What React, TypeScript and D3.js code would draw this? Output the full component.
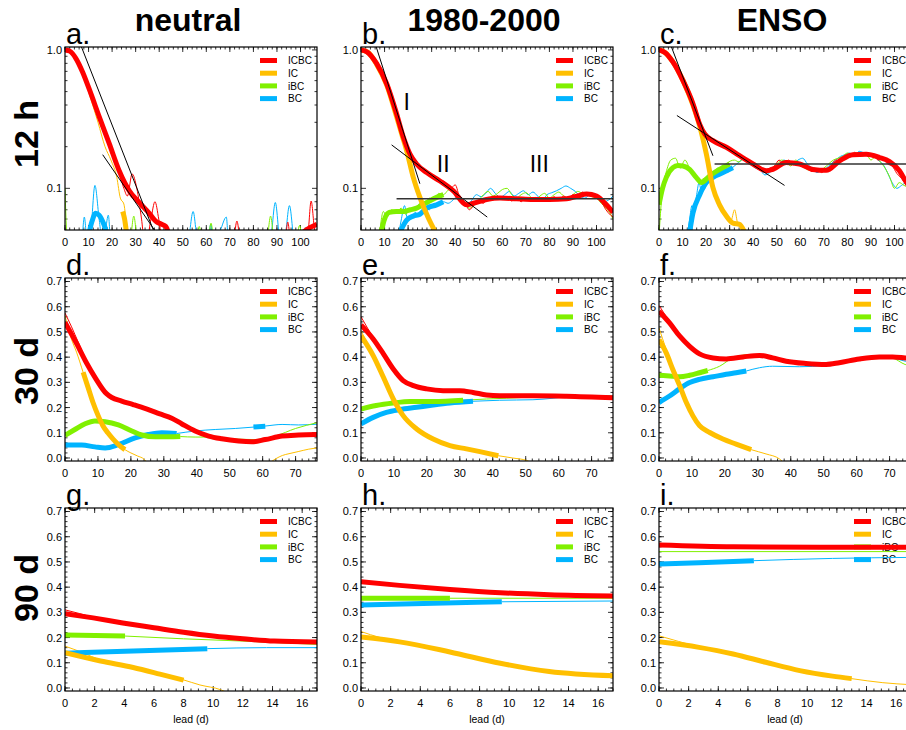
import { useEffect, useRef } from 'react'
import * as d3 from 'd3'

type Pt = [number, number]

// labels
const columnTitles = ['neutral', '1980-2000', 'ENSO']
const rowLabels = ['12 h', '30 d', '90 d']
const panelLetters = ['a.', 'b.', 'c.', 'd.', 'e.', 'f.', 'g.', 'h.', 'i.']
const seriesNames = ['ICBC', 'IC', 'iBC', 'BC']
const seriesColors = ['#ff0000', '#ffbf00', '#80f000', '#00b4ff']
const regimeLabels: { text: string; x: number; y: number }[] = [
    { text: 'I', x: 19.4, y: 0.37 },
    { text: 'II', x: 34.9, y: 0.132 },
    { text: 'III', x: 75.7, y: 0.132 },
]

// axes
const xMaxByRow = [107, 76.5, 17]
const xTicks12h = [0, 10, 20, 30, 40, 50, 60, 70, 80, 90, 100]
const xTicks30d = [0, 10, 20, 30, 40, 50, 60, 70]
const xTicks90d = [0, 2, 4, 6, 8, 10, 12, 14, 16]
const yTicksLog = [0.1, 1.0]
const yMinorLog = [0.06, 0.07, 0.08, 0.09, 0.2, 0.3, 0.4, 0.5, 0.6, 0.7, 0.8, 0.9]
const yTicksLin = [0, 0.1, 0.2, 0.3, 0.4, 0.5, 0.6, 0.7]

// ---- a. neutral 12 h
const a_icbc_thick: Pt[] = [[0, 1.0], [2, 0.98], [4.6, 0.87], [7.5, 0.69], [10.3, 0.52], [14.5, 0.33], [18.8, 0.21], [23, 0.134], [27.3, 0.096], [31.5, 0.079], [35.8, 0.066], [38.5, 0.058], [41, 0.055], [42.8, 0.053], [44, 0.047]]
const a_icbc_thick2: Pt[] = [[101, 0.048], [104, 0.052], [107, 0.055]]
const a_icbc_thin: Pt[] = [[0, 1.0], [4.6, 0.88], [10.3, 0.53], [14.5, 0.34], [18.8, 0.22], [22, 0.15], [25, 0.1], [26.5, 0.088], [28.5, 0.127], [30.5, 0.1], [32.5, 0.06], [33.5, 0.045], [35, 0.045], [36.5, 0.06], [38.2, 0.08], [39.8, 0.06], [41, 0.045], [45, 0.035], [71, 0.035], [73, 0.058], [75, 0.035], [93, 0.035], [94.6, 0.057], [96.2, 0.035], [103, 0.045], [104.5, 0.081], [106, 0.05], [107, 0.045]]
const a_ic_thick: Pt[] = [[24.5, 0.068], [25.3, 0.06], [26.3, 0.045]]
const a_ic_thin: Pt[] = [[0, 1.0], [4, 0.88], [8, 0.63], [11, 0.44], [14, 0.3], [17, 0.2], [19.5, 0.16], [22, 0.12], [23.5, 0.085], [25, 0.077], [26.3, 0.05], [27, 0.04]]
const a_ibc_thin: Pt[] = [[0, 0.1], [0.6, 0.05], [1.2, 0.03], [27.5, 0.04], [29.2, 0.063], [31, 0.04], [55.5, 0.04], [57, 0.053], [58.5, 0.04], [60.5, 0.04], [62, 0.056], [63.5, 0.04], [85.5, 0.04], [87.3, 0.063], [89, 0.04], [98, 0.04], [99.6, 0.054], [101, 0.04], [107, 0.03]]
const a_bc_thick: Pt[] = [[9.9, 0.045], [11.5, 0.058], [13, 0.066], [14.5, 0.064], [16.5, 0.055], [18.2, 0.045]]
const a_bc_thin: Pt[] = [[0, 0.03], [7, 0.04], [8.2, 0.062], [9.5, 0.04], [11, 0.05], [12.7, 0.105], [14.5, 0.06], [16, 0.04], [17.2, 0.05], [18.4, 0.064], [19.5, 0.04], [52, 0.04], [54.4, 0.068], [56.5, 0.04], [60.5, 0.04], [61.9, 0.055], [63, 0.04], [66, 0.05], [68.5, 0.062], [69.5, 0.04], [87, 0.04], [89.3, 0.079], [91.5, 0.04], [93, 0.04], [95.3, 0.075], [97.5, 0.04], [107, 0.03]]
const a_fit1: Pt[] = [[7, 1.05], [37.5, 0.05]]
const a_fit2: Pt[] = [[16, 0.175], [38, 0.05]]

// ---- b. 1980-2000 12 h
const b_icbc_thick: Pt[] = [[0, 1.0], [2.5, 0.97], [6.6, 0.8], [10.9, 0.57], [15.1, 0.346], [18, 0.234], [20.8, 0.177], [23.6, 0.15], [27.9, 0.13], [33.5, 0.113], [39.2, 0.096], [44.8, 0.076], [47.7, 0.078], [53.3, 0.083], [59, 0.085], [66, 0.084], [73.1, 0.083], [80, 0.083], [87.3, 0.084], [92, 0.088], [95.8, 0.091], [100, 0.088], [104.2, 0.076], [107, 0.067]]
const b_icbc_thin: Pt[] = [[0, 1.0], [6.6, 0.81], [10.9, 0.58], [15.1, 0.35], [18, 0.24], [20.8, 0.18], [23.6, 0.152], [27.9, 0.133], [33.5, 0.115], [36, 0.11], [38, 0.1], [40, 0.106], [42, 0.085], [44, 0.08], [46, 0.07], [48, 0.076], [50, 0.08], [52, 0.078], [54, 0.086], [56, 0.082], [58, 0.088], [60, 0.083], [62, 0.087], [64, 0.081], [66, 0.086], [68, 0.08], [70, 0.085], [72, 0.081], [74, 0.086], [76, 0.08], [78, 0.085], [80, 0.082], [82, 0.087], [84, 0.082], [86, 0.088], [88, 0.084], [90, 0.09], [92, 0.087], [94, 0.094], [96, 0.09], [98, 0.092], [100, 0.085], [102, 0.08], [104, 0.07], [106, 0.064], [107, 0.062]]
const b_ic_thick: Pt[] = [[0, 1.0], [3, 0.96], [6.6, 0.79], [10.9, 0.56], [15.1, 0.33], [17.5, 0.24], [19.4, 0.187], [22.2, 0.12], [25, 0.086], [28.6, 0.061], [31.4, 0.049]]
const b_ic_thin: Pt[] = [[0, 1.0], [3, 0.95], [6.6, 0.78], [10.9, 0.55], [15.1, 0.32], [17.5, 0.235], [19.4, 0.18], [22.2, 0.118], [25, 0.084], [28.6, 0.06], [31, 0.049], [32, 0.045]]
const b_ibc_thick: Pt[] = [[8.5, 0.048], [10, 0.06], [12, 0.067], [15, 0.068], [18, 0.068], [21, 0.07], [23.6, 0.072], [27.9, 0.079], [32.1, 0.086], [35, 0.09]]
const b_ibc_thin: Pt[] = [[7.8, 0.045], [9.5, 0.068], [11, 0.062], [13, 0.07], [15, 0.066], [17, 0.072], [19, 0.065], [21, 0.071], [23, 0.07], [25, 0.078], [27, 0.076], [29, 0.085], [31, 0.082], [33, 0.092], [35, 0.09], [37, 0.097], [38.5, 0.1], [40, 0.09], [42, 0.085], [44, 0.078], [46, 0.072], [48, 0.075], [50, 0.082], [52, 0.09], [54, 0.095], [56, 0.088], [58, 0.092], [60, 0.098], [62, 0.1], [64, 0.09], [66, 0.085], [68, 0.09], [70, 0.093], [72, 0.087], [74, 0.082], [76, 0.088], [78, 0.092], [80, 0.085], [82, 0.09], [84, 0.094], [86, 0.088], [88, 0.085], [90, 0.09], [92, 0.095], [94, 0.092], [96, 0.09], [98, 0.087], [100, 0.085], [102, 0.078], [104, 0.072], [106, 0.065], [107, 0.06]]
const b_bc_thick: Pt[] = [[16.5, 0.048], [19.4, 0.059], [22.2, 0.063], [25, 0.065], [27.9, 0.072], [32.1, 0.076], [34.9, 0.08]]
const b_bc_thin: Pt[] = [[15.8, 0.045], [17, 0.058], [18.5, 0.075], [19.5, 0.062], [21, 0.06], [23, 0.067], [25, 0.063], [27, 0.074], [29, 0.07], [31, 0.078], [33, 0.076], [35, 0.08], [37, 0.078], [39, 0.082], [41, 0.088], [43, 0.08], [45, 0.075], [47, 0.082], [49, 0.09], [51, 0.087], [53, 0.092], [55, 0.1], [57, 0.092], [59, 0.086], [61, 0.09], [63, 0.095], [65, 0.088], [67, 0.092], [69, 0.096], [71, 0.09], [73, 0.094], [75, 0.088], [77, 0.082], [79, 0.09], [81, 0.093], [83, 0.096], [85, 0.1], [87, 0.104], [89, 0.1], [91, 0.095], [93, 0.088], [95, 0.085], [97, 0.09], [99, 0.092], [101, 0.087], [103, 0.08], [105, 0.082], [107, 0.088]]
const b_fit1: Pt[] = [[6.4, 1.06], [25, 0.108]]
const b_fit2: Pt[] = [[13, 0.206], [53.6, 0.062]]
const b_plateau: Pt[] = [[15.1, 0.084], [107, 0.084]]

// ---- c. ENSO 12 h
const c_icbc_thick: Pt[] = [[0, 1.0], [2.5, 0.96], [5.9, 0.82], [10.2, 0.6], [14.4, 0.41], [17.3, 0.29], [19.4, 0.247], [22.9, 0.221], [28.6, 0.198], [34.2, 0.172], [39.9, 0.15], [45.5, 0.134], [48.4, 0.137], [54, 0.154], [59.7, 0.15], [65.3, 0.137], [71, 0.135], [76.7, 0.158], [82.3, 0.175], [88, 0.176], [93.6, 0.167], [97.9, 0.156], [102.1, 0.134], [104.7, 0.113], [107, 0.1]]
const c_icbc_thin: Pt[] = [[0, 1.0], [5.9, 0.83], [10.2, 0.61], [14.4, 0.42], [17.3, 0.3], [19.4, 0.25], [21, 0.235], [23, 0.225], [25, 0.215], [27, 0.2], [29, 0.2], [31, 0.185], [33, 0.178], [35, 0.17], [37, 0.16], [39, 0.155], [41, 0.145], [43, 0.14], [45, 0.13], [47, 0.14], [49, 0.145], [51, 0.16], [53, 0.15], [55, 0.16], [57, 0.148], [59, 0.155], [61, 0.143], [63, 0.14], [65, 0.132], [67, 0.138], [69, 0.13], [71, 0.138], [73, 0.145], [75, 0.16], [77, 0.155], [79, 0.172], [81, 0.168], [83, 0.182], [85, 0.172], [87, 0.18], [89, 0.17], [91, 0.173], [93, 0.16], [95, 0.165], [97, 0.15], [99, 0.145], [101, 0.128], [103, 0.118], [105, 0.105], [107, 0.095]]
const c_ic_thick: Pt[] = [[0, 1.0], [2.5, 0.96], [5.9, 0.82], [10.2, 0.6], [14.4, 0.4], [17.3, 0.28], [20.1, 0.177], [22.9, 0.101], [25.7, 0.076], [28.6, 0.063], [31.4, 0.056], [34.2, 0.055], [36.4, 0.048]]
const c_ic_thin: Pt[] = [[0, 1.0], [5.9, 0.8], [10.2, 0.58], [14.4, 0.39], [17.3, 0.27], [20.1, 0.17], [22.9, 0.098], [25.7, 0.074], [28.6, 0.062], [30.5, 0.058], [32.1, 0.07], [33.5, 0.055], [35, 0.052], [36.5, 0.045]]
const c_ibc_thick: Pt[] = [[0, 0.076], [1.5, 0.1], [3.1, 0.12], [5.9, 0.141], [8, 0.146], [10.2, 0.145], [13, 0.137], [15.8, 0.12], [18, 0.11], [21.5, 0.123], [25.7, 0.137], [30, 0.15]]
const c_ibc_thin: Pt[] = [[0, 0.045], [1, 0.08], [2, 0.11], [3, 0.13], [5, 0.16], [7, 0.165], [9, 0.14], [11, 0.16], [13, 0.14], [15, 0.125], [17, 0.112], [19, 0.118], [21, 0.12], [23, 0.13], [25, 0.14], [27, 0.135], [29, 0.152], [32, 0.16], [34, 0.155], [36, 0.165], [38, 0.16], [40, 0.15], [42, 0.145], [44, 0.14], [46, 0.13], [48, 0.14], [50, 0.15], [52, 0.16], [54, 0.155], [56, 0.145], [58, 0.16], [60, 0.15], [62, 0.14], [64, 0.135], [66, 0.14], [68, 0.135], [70, 0.14], [72, 0.15], [74, 0.16], [76, 0.165], [78, 0.17], [80, 0.18], [82, 0.175], [84, 0.18], [86, 0.17], [88, 0.175], [90, 0.16], [92, 0.17], [94, 0.155], [96, 0.14], [98, 0.12], [100, 0.1], [102, 0.11], [104, 0.105], [107, 0.1]]
const c_bc_thick: Pt[] = [[13, 0.048], [14.4, 0.066], [17.3, 0.09], [20.1, 0.11], [22.9, 0.12], [27.2, 0.13], [31.4, 0.141]]
const c_bc_thin: Pt[] = [[12, 0.045], [13, 0.06], [14, 0.075], [15, 0.07], [16, 0.09], [17, 0.11], [18, 0.095], [19.5, 0.1], [21, 0.118], [23, 0.12], [25, 0.125], [27, 0.135], [29, 0.13], [31, 0.14], [33, 0.15], [35, 0.16], [37, 0.165], [39, 0.15], [41, 0.14], [43, 0.135], [45, 0.125], [47, 0.13], [49, 0.14], [51, 0.15], [53, 0.16], [55, 0.155], [57, 0.15], [59, 0.16], [61, 0.165], [63, 0.15], [65, 0.14], [67, 0.13], [69, 0.135], [71, 0.14], [73, 0.15], [75, 0.16], [77, 0.17], [79, 0.175], [81, 0.18], [83, 0.17], [85, 0.185], [87, 0.18], [89, 0.17], [91, 0.175], [93, 0.16], [95, 0.15], [97, 0.13], [99, 0.11], [101, 0.1], [103, 0.105], [105, 0.11], [107, 0.1]]
const c_fit1: Pt[] = [[5.2, 1.06], [22.9, 0.172]]
const c_fit2: Pt[] = [[7.6, 0.336], [53.3, 0.105]]
const c_plateau: Pt[] = [[23.6, 0.15], [107, 0.15]]

// ---- d. neutral 30 d
const d_icbc_thick: Pt[] = [[0, 0.538], [3.4, 0.457], [6.5, 0.378], [9.1, 0.32], [12.6, 0.255], [14.2, 0.24], [17.2, 0.226], [20.7, 0.212], [24.7, 0.195], [28.8, 0.175], [32.4, 0.158], [35.5, 0.135], [39.5, 0.107], [43.6, 0.087], [47.6, 0.076], [52.7, 0.067], [56.7, 0.064], [60.8, 0.073], [65.9, 0.087], [70.9, 0.091], [76.5, 0.093]]
const d_icbc_thin: Pt[] = [[0, 0.575], [2, 0.52], [4, 0.46], [6.5, 0.385], [9.1, 0.322], [12.6, 0.256]]
const d_ic_thick: Pt[] = [[5.5, 0.34], [7, 0.28], [8.5, 0.22], [10, 0.17], [11.5, 0.128], [13, 0.1], [14.6, 0.075], [16.5, 0.05], [18.2, 0.033]]
const d_ic_thin: Pt[] = [[0, 0.565], [2, 0.47], [3.5, 0.42], [5.5, 0.34], [7, 0.28], [8.5, 0.22], [10, 0.17], [11.5, 0.128], [13, 0.1], [14.6, 0.075], [16.5, 0.05], [18.2, 0.033], [20, 0.02], [22, 0.008], [24, -0.005], [25, -0.02]]
const d_ic_thin2: Pt[] = [[62, -0.02], [64, -0.003], [66, 0.01], [68, 0.017], [71, 0.026], [74, 0.035], [76.5, 0.04]]
const d_ibc_thick: Pt[] = [[0, 0.09], [3, 0.113], [6.1, 0.136], [9.1, 0.147], [12.2, 0.144], [16.2, 0.131], [20.3, 0.107], [23.3, 0.091], [27.4, 0.084], [31.4, 0.084], [35, 0.085]]
const d_ibc_thin: Pt[] = [[35, 0.085], [39.5, 0.083], [44.6, 0.083], [49.6, 0.077], [57.7, 0.073], [63.8, 0.087], [70, 0.117], [76.5, 0.14]]
const d_bc_thick: Pt[] = [[0, 0.051], [5.1, 0.051], [9.1, 0.044], [12.2, 0.04], [16.2, 0.053], [21.3, 0.08], [25.3, 0.093], [29.4, 0.1], [33.9, 0.097]]
const d_bc_thick2: Pt[] = [[57.2, 0.123], [60.8, 0.126]]
const d_bc_thin: Pt[] = [[33.9, 0.097], [39.5, 0.107], [45.6, 0.113], [51.7, 0.117], [57.7, 0.123], [61, 0.127], [65.9, 0.133], [70.9, 0.131], [76.5, 0.134]]

// ---- e. 1980-2000 30 d
const e_icbc_thick: Pt[] = [[0, 0.528], [3.7, 0.472], [6.8, 0.413], [9.8, 0.353], [12.8, 0.307], [15.9, 0.287], [19.9, 0.274], [24.9, 0.267], [30, 0.267], [34, 0.26], [38.1, 0.25], [42.1, 0.247], [52.2, 0.247], [62.3, 0.245], [76.5, 0.239]]
const e_icbc_thin: Pt[] = [[0, 0.56], [2, 0.515], [3.7, 0.478], [6.8, 0.415], [9.8, 0.354]]
const e_ic_thick: Pt[] = [[0, 0.485], [3.7, 0.406], [6.8, 0.32], [9.8, 0.234], [12.8, 0.168], [16.9, 0.115], [21.9, 0.075], [27, 0.049], [32, 0.036], [36.1, 0.025], [41.7, 0.009]]
const e_ic_thin: Pt[] = [[0, 0.505], [2, 0.45], [3.7, 0.41], [6.8, 0.322], [9.8, 0.235], [12.8, 0.168], [16.9, 0.115], [21.9, 0.075], [27, 0.049], [32, 0.036], [36.1, 0.025], [41.7, 0.009], [46, 0.0], [50.3, -0.01], [52, -0.02]]
const e_ibc_thick: Pt[] = [[0, 0.194], [4.6, 0.208], [9.8, 0.218], [14.8, 0.224], [21.9, 0.224], [31, 0.229]]
const e_ibc_thin: Pt[] = [[31, 0.229], [38.1, 0.234], [44.1, 0.237], [52.3, 0.242], [62.3, 0.247], [72.4, 0.247], [76.5, 0.245]]
const e_bc_thick: Pt[] = [[0, 0.135], [3.7, 0.161], [7.7, 0.181], [11.8, 0.192], [16.9, 0.201], [21.9, 0.21], [27, 0.218], [34, 0.225]]
const e_bc_thin: Pt[] = [[34, 0.225], [42.1, 0.229], [52.2, 0.231], [58.3, 0.237], [65.4, 0.247], [76.5, 0.247]]

// ---- f. ENSO 30 d
const f_icbc_thick: Pt[] = [[0, 0.582], [3.2, 0.536], [6.3, 0.483], [9.3, 0.443], [12.3, 0.413], [16.4, 0.397], [20.4, 0.393], [25.5, 0.401], [30.5, 0.407], [34.5, 0.397], [38.6, 0.384], [44.6, 0.375], [50.7, 0.371], [54.7, 0.378], [60.8, 0.393], [66.9, 0.401], [70.9, 0.401], [74.7, 0.397], [76.5, 0.395]]
const f_icbc_thin: Pt[] = [[0, 0.605], [1.5, 0.575], [3.2, 0.54], [6.3, 0.485]]
const f_ic_thick: Pt[] = [[0, 0.47], [2.2, 0.417], [4.2, 0.351], [6.3, 0.286], [8.3, 0.22], [10.3, 0.167], [12.3, 0.128], [15.4, 0.101], [19.4, 0.075], [23.4, 0.055], [28, 0.033]]
const f_ic_thin: Pt[] = [[0, 0.516], [2.2, 0.43], [4.2, 0.355], [6.3, 0.288], [8.3, 0.221], [10.3, 0.167], [12.3, 0.128], [15.4, 0.101], [19.4, 0.075], [23.4, 0.055], [28, 0.033], [32.5, 0.016], [36.6, -0.004], [38, -0.02]]
const f_ibc_thick: Pt[] = [[0, 0.328], [3.2, 0.325], [6.3, 0.322], [9.3, 0.328], [12.3, 0.338], [14.8, 0.347]]
const f_ibc_thin: Pt[] = [[14.8, 0.347], [18.4, 0.364], [22.4, 0.397], [27.5, 0.41], [32.5, 0.401], [38.6, 0.38], [44.6, 0.375], [52.7, 0.375], [60.8, 0.393], [66.9, 0.404], [70.9, 0.397], [74.7, 0.371], [76.5, 0.365]]
const f_bc_thick: Pt[] = [[0, 0.22], [3.2, 0.246], [6.3, 0.275], [9.3, 0.299], [12.3, 0.312], [16.4, 0.322], [20.4, 0.332], [23.4, 0.338], [26.5, 0.345]]
const f_bc_thin: Pt[] = [[26.5, 0.345], [30.5, 0.358], [34.5, 0.364], [42.6, 0.362], [50.7, 0.367], [58.8, 0.384], [64.8, 0.404], [70.9, 0.397], [74.7, 0.384], [76.5, 0.38]]

// ---- g. neutral 90 d
const g_icbc_thick: Pt[] = [[0, 0.295], [1.9, 0.278], [3.9, 0.258], [6, 0.239], [8, 0.221], [10, 0.206], [12, 0.195], [14.1, 0.186], [17, 0.182]]
const g_icbc_thin: Pt[] = [[0, 0.31], [1, 0.295], [1.9, 0.28], [3, 0.268]]
const g_ic_thick: Pt[] = [[0, 0.14], [2.4, 0.107], [4.6, 0.081], [6.4, 0.055], [8, 0.031]]
const g_ic_thin: Pt[] = [[0, 0.166], [1.2, 0.14], [2.4, 0.11], [4.6, 0.082], [6.4, 0.056], [8, 0.032], [9.1, 0.012], [10.5, -0.007], [11, -0.02]]
const g_ibc_thick: Pt[] = [[0, 0.21], [4.05, 0.206]]
const g_ibc_thin: Pt[] = [[4.05, 0.206], [8, 0.195], [12, 0.186], [17, 0.173]]
const g_bc_thick: Pt[] = [[0, 0.138], [4.6, 0.147], [9.6, 0.156]]
const g_bc_thin: Pt[] = [[9.6, 0.156], [13.6, 0.16], [17, 0.16]]

// ---- h. 1980-2000 90 d
const h_icbc_thick: Pt[] = [[0, 0.421], [2.6, 0.407], [6, 0.391], [9.4, 0.378], [12.7, 0.37], [17, 0.365]]
const h_ic_thick: Pt[] = [[0, 0.202], [2.6, 0.183], [6, 0.143], [9.4, 0.098], [12.7, 0.065], [17, 0.048]]
const h_ic_thin: Pt[] = [[0, 0.224], [1.3, 0.2], [2.6, 0.185], [6, 0.145]]
const h_ibc_thick: Pt[] = [[0, 0.356], [6, 0.356]]
const h_ibc_thin: Pt[] = [[6, 0.356], [17, 0.356]]
const h_bc_thick: Pt[] = [[0, 0.329], [4.9, 0.336], [9.5, 0.342]]
const h_bc_thin: Pt[] = [[9.5, 0.342], [17, 0.345]]

// ---- i. ENSO 90 d
const i_icbc_thick: Pt[] = [[0, 0.567], [5, 0.56], [11, 0.558], [17, 0.558]]
const i_ic_thick: Pt[] = [[0, 0.183], [2.7, 0.161], [5, 0.135], [7.2, 0.102], [9.5, 0.069], [11.7, 0.047], [13, 0.037]]
const i_ic_thin: Pt[] = [[0, 0.207], [1.3, 0.185], [2.7, 0.163], [5, 0.136], [7.2, 0.103], [9.5, 0.07], [11.7, 0.048], [13, 0.037], [15.1, 0.021], [17, 0.013]]
const i_ibc_thin: Pt[] = [[0, 0.541], [17, 0.541]]
const i_bc_thick: Pt[] = [[0, 0.492], [2.7, 0.497], [6.4, 0.505]]
const i_bc_thin: Pt[] = [[6.4, 0.505], [11.7, 0.514], [17, 0.518]]

interface Series { thick: Pt[][]; thin: Pt[][] }
interface Panel { series: Series[]; fits: Pt[][]; plateau?: Pt[]; regimes?: boolean }

// order in series: ICBC, IC, iBC, BC
const panels: Panel[] = [
    { series: [{ thick: [a_icbc_thick, a_icbc_thick2], thin: [a_icbc_thin] }, { thick: [a_ic_thick], thin: [a_ic_thin] }, { thick: [], thin: [a_ibc_thin] }, { thick: [a_bc_thick], thin: [a_bc_thin] }], fits: [a_fit1, a_fit2] },
    { series: [{ thick: [b_icbc_thick], thin: [b_icbc_thin] }, { thick: [b_ic_thick], thin: [b_ic_thin] }, { thick: [b_ibc_thick], thin: [b_ibc_thin] }, { thick: [b_bc_thick], thin: [b_bc_thin] }], fits: [b_fit1, b_fit2], plateau: b_plateau, regimes: true },
    { series: [{ thick: [c_icbc_thick], thin: [c_icbc_thin] }, { thick: [c_ic_thick], thin: [c_ic_thin] }, { thick: [c_ibc_thick], thin: [c_ibc_thin] }, { thick: [c_bc_thick], thin: [c_bc_thin] }], fits: [c_fit1, c_fit2], plateau: c_plateau },
    { series: [{ thick: [d_icbc_thick], thin: [d_icbc_thin] }, { thick: [d_ic_thick], thin: [d_ic_thin, d_ic_thin2] }, { thick: [d_ibc_thick], thin: [d_ibc_thin] }, { thick: [d_bc_thick, d_bc_thick2], thin: [d_bc_thin] }], fits: [] },
    { series: [{ thick: [e_icbc_thick], thin: [e_icbc_thin] }, { thick: [e_ic_thick], thin: [e_ic_thin] }, { thick: [e_ibc_thick], thin: [e_ibc_thin] }, { thick: [e_bc_thick], thin: [e_bc_thin] }], fits: [] },
    { series: [{ thick: [f_icbc_thick], thin: [f_icbc_thin] }, { thick: [f_ic_thick], thin: [f_ic_thin] }, { thick: [f_ibc_thick], thin: [f_ibc_thin] }, { thick: [f_bc_thick], thin: [f_bc_thin] }], fits: [] },
    { series: [{ thick: [g_icbc_thick], thin: [g_icbc_thin] }, { thick: [g_ic_thick], thin: [g_ic_thin] }, { thick: [g_ibc_thick], thin: [g_ibc_thin] }, { thick: [g_bc_thick], thin: [g_bc_thin] }], fits: [] },
    { series: [{ thick: [h_icbc_thick], thin: [] }, { thick: [h_ic_thick], thin: [h_ic_thin] }, { thick: [h_ibc_thick], thin: [h_ibc_thin] }, { thick: [h_bc_thick], thin: [h_bc_thin] }], fits: [] },
    { series: [{ thick: [i_icbc_thick], thin: [] }, { thick: [i_ic_thick], thin: [i_ic_thin] }, { thick: [], thin: [i_ibc_thin] }, { thick: [i_bc_thick], thin: [i_bc_thin] }], fits: [] },
]

const W = 906, H = 730
const colLeft = [65, 361, 659]
const rowTop = [47, 278, 508]
const panelW = 252, panelH = 183
const font = "'Liberation Sans', Arial, Helvetica, sans-serif"

function App() {
    const ref = useRef<SVGSVGElement | null>(null)

    useEffect(() => {
        const svg = d3.select(ref.current)
        svg.selectAll('*').remove()
        svg.attr('viewBox', [0, 0, W, H]).attr('width', W).attr('height', H)

        svg.append('rect').attr('width', W).attr('height', H).attr('fill', 'white')
        const defs = svg.append('defs')

        // column titles and row labels
        columnTitles.forEach((t, c) => {
            svg.append('text').attr('x', colLeft[c] + panelW / 2 - 3).attr('y', 31)
                .attr('text-anchor', 'middle').attr('font-family', font).attr('font-weight', 'bold')
                .attr('font-size', 32).text(t)
        })
        const rowLabelY = [134, 371, 588]
        rowLabels.forEach((t, r) => {
            svg.append('text').attr('transform', `translate(38,${rowLabelY[r]}) rotate(-90)`)
                .attr('text-anchor', 'middle').attr('font-family', font).attr('font-weight', 'bold')
                .attr('font-size', 34).text(t)
        })

        panels.forEach((p, k) => {
            const row = Math.floor(k / 3), col = k % 3
            const x0 = colLeft[col], y0 = rowTop[row]
            const x1 = x0 + panelW, y1 = y0 + panelH
            const x = d3.scaleLinear().domain([0, xMaxByRow[row]]).range([x0, x1])
            const y: any = row === 0
                ? d3.scaleLog().domain([0.05, 1.05]).range([y1, y0])
                : d3.scaleLinear().domain([-0.012, 0.714]).range([y1, y0])

            const g = svg.append('g')
            const clipId = `clip-${k}`
            defs.append('clipPath').attr('id', clipId).append('rect')
                .attr('x', x0).attr('y', y0).attr('width', panelW).attr('height', panelH)

            // panel letter
            g.append('text').attr('x', x0 + 1).attr('y', y0 - 3).attr('font-family', font)
                .attr('font-size', 29).text(panelLetters[k])

            // ticks
            const xTicks = row === 0 ? xTicks12h : row === 1 ? xTicks30d : xTicks90d
            const xMinorStep = row === 2 ? 0.5 : 2
            const xMinor = d3.range(0, xMaxByRow[row] + 1e-6, xMinorStep)
            const yMajor = row === 0 ? yTicksLog : yTicksLin
            const yMinor = row === 0 ? yMinorLog : d3.range(0, 0.7001, 0.02)
            const tg = g.append('g').attr('stroke', 'black').attr('stroke-width', 0.8)
            const tick = (xa: number, ya: number, xb: number, yb: number) =>
                tg.append('line').attr('x1', xa).attr('y1', ya).attr('x2', xb).attr('y2', yb)
            xMinor.forEach(v => { const px = x(v); tick(px, y1, px, y1 - 2.5); tick(px, y0, px, y0 + 2.5) })
            xTicks.forEach(v => { const px = x(v); tick(px, y1, px, y1 - 5); tick(px, y0, px, y0 + 5) })
            yMinor.forEach(v => { const py = y(v); tick(x0, py, x0 + 2.5, py); tick(x1, py, x1 - 2.5, py) })
            yMajor.forEach(v => { const py = y(v); tick(x0, py, x0 + 5, py); tick(x1, py, x1 - 5, py) })

            // tick labels
            xTicks.forEach(v => {
                g.append('text').attr('x', x(v)).attr('y', y1 + 16).attr('text-anchor', 'middle')
                    .attr('font-family', font).attr('font-size', 11).text(String(v))
            })
            yMajor.forEach(v => {
                g.append('text').attr('x', x0 - 3).attr('y', y(v)).attr('dy', '0.36em')
                    .attr('text-anchor', 'end').attr('font-family', font).attr('font-size', 11)
                    .text(v.toFixed(1))
            })
            if (row === 2) {
                g.append('text').attr('x', x0 + panelW / 2).attr('y', y1 + 32).attr('text-anchor', 'middle')
                    .attr('font-family', font).attr('font-size', 10.5).text('lead (d)')
            }

            // legend (drawn below the curves)
            seriesNames.forEach((name, i) => {
                const ly = y0 + 13.5 + i * 12.7
                g.append('line').attr('x1', x0 + 195).attr('x2', x0 + 212).attr('y1', ly).attr('y2', ly)
                    .attr('stroke', seriesColors[i]).attr('stroke-width', 5)
                g.append('text').attr('x', x0 + 223).attr('y', ly).attr('dy', '0.36em')
                    .attr('font-family', font).attr('font-size', 10).text(name)
            })

            const plot = g.append('g').attr('clip-path', `url(#${clipId})`).attr('fill', 'none')
            const curve = d3.line<Pt>().x(d => x(d[0])).y(d => y(d[1])).curve(d3.curveMonotoneX)
            const straight = d3.line<Pt>().x(d => x(d[0])).y(d => y(d[1]))
            const drawOrder = [3, 2, 1, 0]
            drawOrder.forEach(i => p.series[i].thin.forEach(seg => {
                plot.append('path').attr('d', curve(seg)).attr('stroke', seriesColors[i]).attr('stroke-width', 1)
            }))
            drawOrder.forEach(i => p.series[i].thick.forEach(seg => {
                plot.append('path').attr('d', curve(seg)).attr('stroke', seriesColors[i])
                    .attr('stroke-width', 5).attr('stroke-linejoin', 'round')
            }))
            p.fits.forEach(seg => {
                plot.append('path').attr('d', straight(seg)).attr('stroke', 'black').attr('stroke-width', 1)
            })
            if (p.plateau) {
                plot.append('path').attr('d', straight(p.plateau)).attr('stroke', '#333').attr('stroke-width', 1.4)
            }
            if (p.regimes) {
                regimeLabels.forEach(r => {
                    g.append('text').attr('x', x(r.x)).attr('y', y(r.y)).attr('text-anchor', 'middle')
                        .attr('font-family', font).attr('font-size', 23).text(r.text)
                })
            }

            // frame
            g.append('rect').attr('x', x0).attr('y', y0).attr('width', panelW).attr('height', panelH)
                .attr('fill', 'none').attr('stroke', 'black').attr('stroke-width', 1.2)
        })
    }, [])

    return (
        <svg ref={ref} style={{ position: 'absolute', left: 0, top: 0, display: 'block' }}></svg>
    )
}

export default App
